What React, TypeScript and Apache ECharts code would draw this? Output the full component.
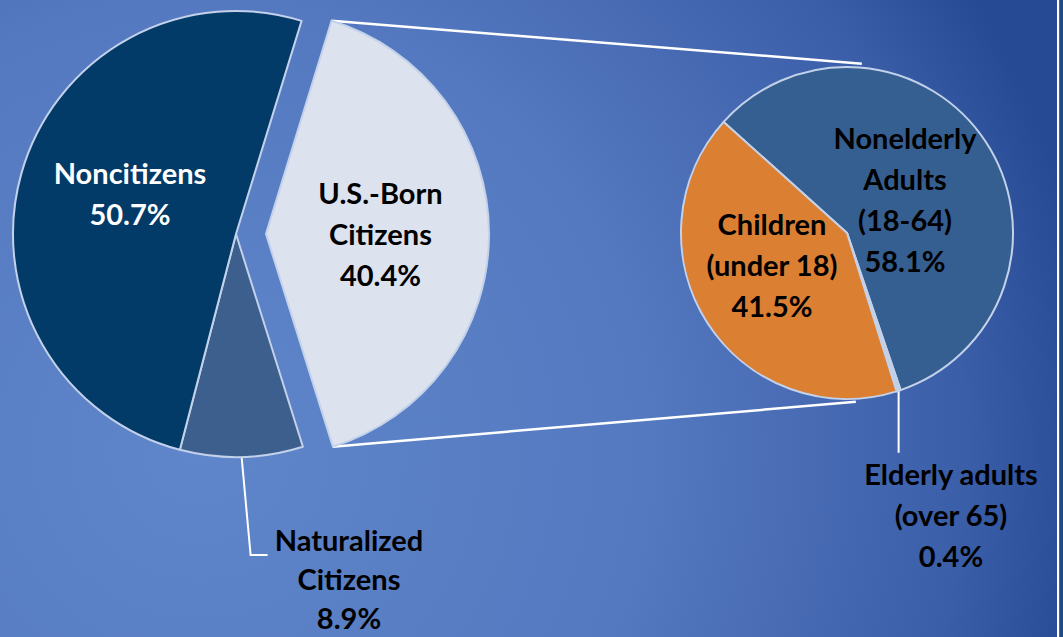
import React, { useEffect, useRef } from "react";
import * as echarts from "echarts";

// ---- data ----
const leftNames = ["U.S.-Born\nCitizens", "Naturalized\nCitizens", "Noncitizens"];
const leftValues = [40.4, 8.9, 50.7];
const leftColors = ["#DCE2EE", "#3D5F8D", "#023A68"];
const leftTextColors = ["#000000", "#000000", "#FFFFFF"];

const rightNames = ["Nonelderly\nAdults\n(18-64)", "Elderly adults\n(over 65)", "Children\n(under 18)"];
const rightValues = [58.1, 0.4, 41.5];
const rightColors = ["#365F91", "#BDD0E9", "#DB7F33"];

// ---- layout ----
const W = 1063;
const H = 637;
const C1 = [236, 234];
const R1 = 223;
const START1 = 72.9; // echarts startAngle (deg, ccw from 3 o'clock)
const EXPLODE = 30;
const C2 = [847, 233];
const R2 = 166;
const START2 = 138;

const FONT = "Lato, 'Open Sans', sans-serif";

const leftLabelPos = [
  [385, 226],
  [349, 578],
  [130, 193],
];
const rightLabelPos = [
  [905, 199],
  [951, 514],
  [772, 264],
];

function rad(d: number) {
  return (d * Math.PI) / 180;
}
// clockwise degrees from 12 o'clock -> point
function pt(c: number[], r: number, a: number) {
  return [c[0] + r * Math.sin(rad(a)), c[1] - r * Math.cos(rad(a))];
}
function sliceAngles(values: number[], start: number) {
  const total = values.reduce((s, v) => s + v, 0);
  let a = 90 - start;
  return values.map((v) => {
    const s = a;
    const e = a + (v / total) * 360;
    a = e;
    return { s, e, m: (s + e) / 2 };
  });
}

export default function App() {
  const ref = useRef<HTMLDivElement>(null);
  useEffect(() => {
    if (!ref.current) return;
    const chart = echarts.init(ref.current, undefined, { renderer: "svg" });

    const la = sliceAngles(leftValues, START1);
    const ra = sliceAngles(rightValues, START2);
    // exploded slice centre
    const off = pt([0, 0], EXPLODE, la[0].m);
    const cEx = [C1[0] + off[0], C1[1] + off[1]];
    const pTop = pt(cEx, R1, la[0].s);
    const pBot = pt(cEx, R1, la[0].e);
    const qTop = pt(C2, R2 + 4, 5);
    const qBot = pt(C2, R2 + 3, 177);

    // leader for naturalized
    const n0 = pt(C1, R1, la[1].m);
    const n1 = [n0[0] + 9, n0[1] + 98];
    const n2 = [n1[0] + 17, n1[1]];
    // leader for elderly
    const e0 = pt(C2, R2, ra[1].m);
    const e1 = [e0[0], e0[1] + 62];

    const lineStyle = { stroke: "#FFFFFF", lineWidth: 2.5 };

    const baseLabel = {
      show: true,
      position: "inside",
      fontFamily: FONT,
      fontWeight: "bold",
      fontSize: 29,
      lineHeight: 41,
      align: "center",
      verticalAlign: "middle",
    };

    chart.setOption({
      animation: false,
      backgroundColor: "transparent",
      graphic: [
        {
          type: "rect",
          z: -10,
          silent: true,
          shape: { x: 0, y: 0, width: W, height: H },
          style: {
            fill: new echarts.graphic.RadialGradient(
              200,
              450,
              900,
              [
                { offset: 0, color: "#5F85CA" },
                { offset: 0.5, color: "#5479C0" },
                { offset: 0.65, color: "#4A6DB6" },
                { offset: 0.85, color: "#3A5EA8" },
                { offset: 1, color: "#264A93" },
              ],
              true
            ),
          },
        },
        {
          type: "rect",
          z: -9,
          silent: true,
          shape: { x: 1057, y: 0, width: 2.4, height: H },
          style: { fill: "#FFFFFF" },
        },
        {
          type: "rect",
          z: -9,
          silent: true,
          shape: { x: 1059.4, y: 0, width: 4, height: H },
          style: { fill: "#24478A" },
        },
        {
          type: "line",
          z: 1,
          silent: true,
          shape: { x1: pTop[0], y1: pTop[1], x2: qTop[0], y2: qTop[1] },
          style: lineStyle,
        },
        {
          type: "line",
          z: 1,
          silent: true,
          shape: { x1: pBot[0], y1: pBot[1], x2: qBot[0], y2: qBot[1] },
          style: lineStyle,
        },
        {
          type: "polyline",
          z: 1,
          silent: true,
          shape: { points: [n0, n1, n2] },
          style: { stroke: "#FFFFFF", lineWidth: 2, fill: null },
        },
        {
          type: "polyline",
          z: 1,
          silent: true,
          shape: { points: [e0, e1] },
          style: { stroke: "#FFFFFF", lineWidth: 2, fill: null },
        },
      ],
      series: [
        {
          type: "pie",
          center: C1,
          radius: R1,
          startAngle: START1,
          clockwise: true,
          selectedMode: "single",
          selectedOffset: EXPLODE,
          avoidLabelOverlap: false,
          itemStyle: { borderColor: "#C3D2EA", borderWidth: 2 },
          emphasis: { disabled: true },
          label: baseLabel,
          labelLine: { show: false },
          labelLayout: (p: any) => ({
            x: leftLabelPos[p.dataIndex][0],
            y: leftLabelPos[p.dataIndex][1],
            align: "center",
            verticalAlign: "middle",
          }),
          data: leftValues.map((v, i) => ({
            name: leftNames[i],
            value: v,
            selected: i === 0,
            itemStyle: { color: leftColors[i] },
            label: {
              color: leftTextColors[i],
              lineHeight: i === 1 ? 39 : 41,
              formatter: `${leftNames[i]}\n${v.toFixed(1)}%`,
            },
          })),
        },
        {
          type: "pie",
          center: C2,
          radius: R2,
          startAngle: START2,
          clockwise: true,
          avoidLabelOverlap: false,
          itemStyle: { borderColor: "#C3D2EA", borderWidth: 2 },
          emphasis: { disabled: true },
          label: baseLabel,
          labelLine: { show: false },
          labelLayout: (p: any) => ({
            x: rightLabelPos[p.dataIndex][0],
            y: rightLabelPos[p.dataIndex][1],
            align: "center",
            verticalAlign: "middle",
          }),
          data: rightValues.map((v, i) => ({
            name: rightNames[i],
            value: v,
            itemStyle: { color: rightColors[i] },
            label: {
              color: "#000000",
              formatter: `${rightNames[i]}\n${v.toFixed(1)}%`,
            },
          })),
        },
      ],
    });
    return () => chart.dispose();
  }, []);
  return (
    <div
      ref={ref}
      style={{ position: "absolute", left: 0, top: 0, width: W, height: H }}
    />
  );
}
